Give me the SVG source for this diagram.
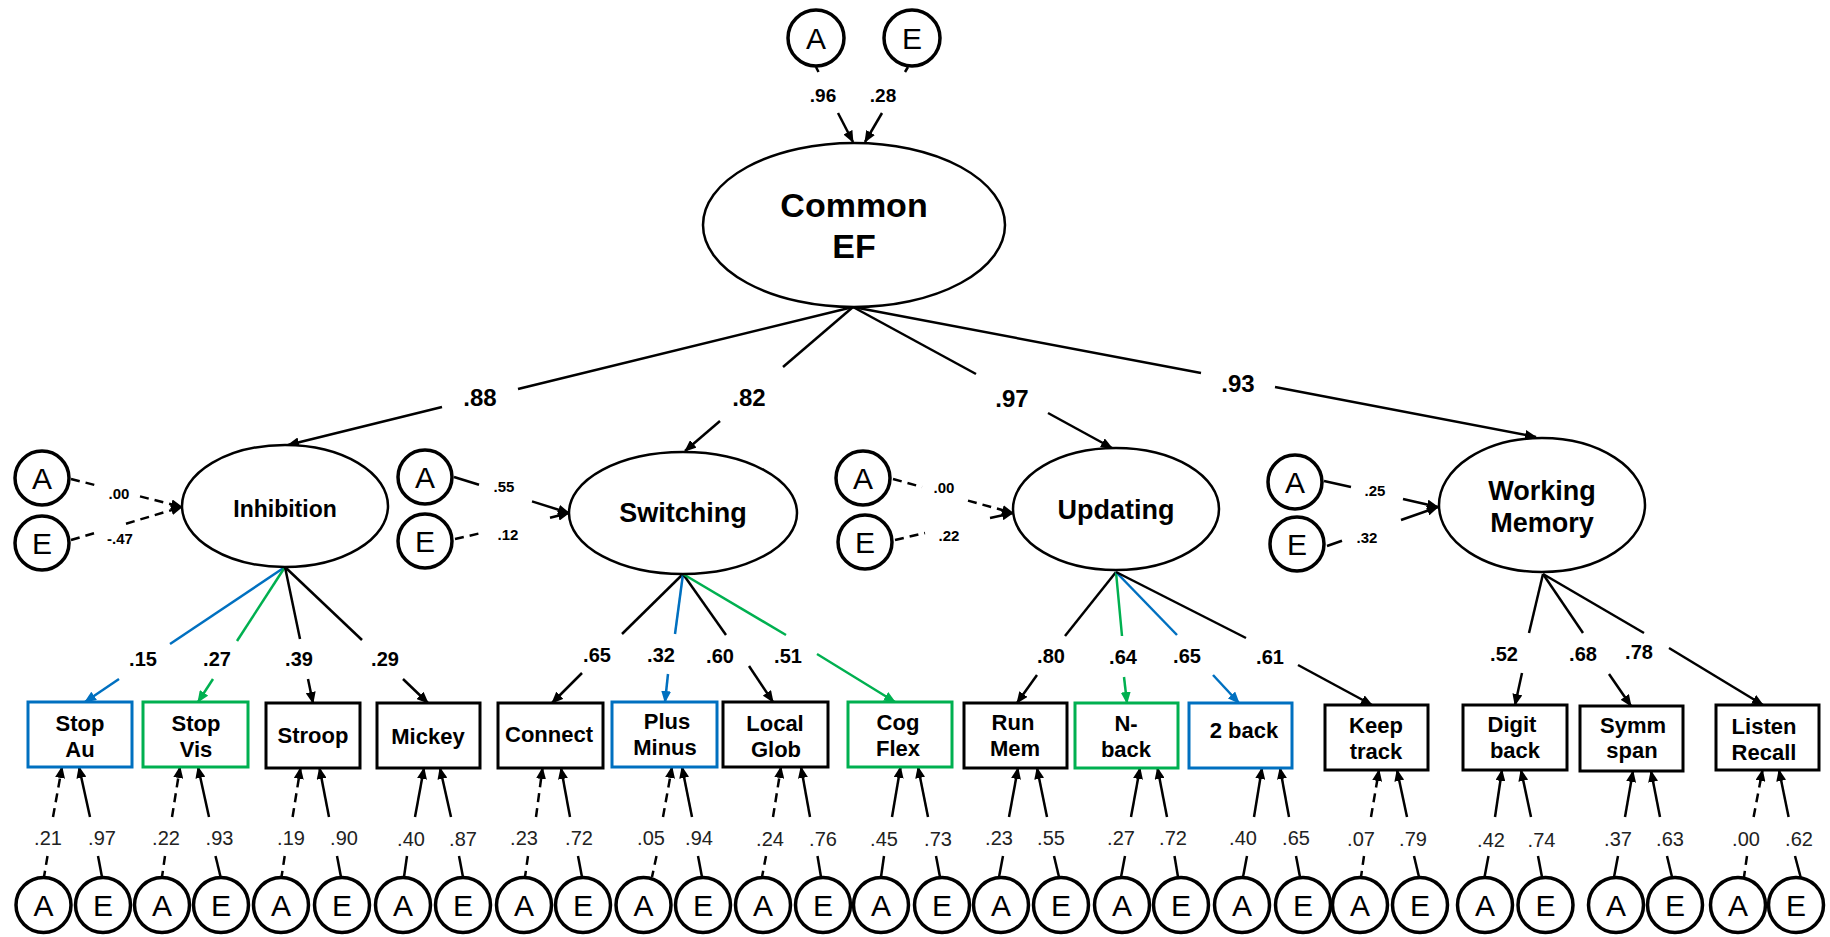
<svg xmlns="http://www.w3.org/2000/svg" width="1830" height="937" viewBox="0 0 1830 937">
<style>
.ln{stroke:#000;stroke-width:2.5;fill:none}
.bl{stroke:#0070C0}
.gr{stroke:#00B050}
.da{stroke-dasharray:9 6}
.ell{fill:#fff;stroke:#000;stroke-width:2.5}
.circ{fill:#fff;stroke:#000;stroke-width:3.5}
.box{fill:#fff;stroke:#000;stroke-width:3}
.boxb{fill:#fff;stroke:#0070C0;stroke-width:3}
.boxg{fill:#fff;stroke:#00B050;stroke-width:3}
text{font-family:"Liberation Sans",Arial,sans-serif;fill:#000;text-anchor:middle}
.ae{font-size:30px}
.bt{font-size:22px;font-weight:bold}
.fl{font-size:27px;font-weight:bold}
.big{font-size:34px;font-weight:bold}
.l1{font-size:24px;font-weight:bold}
.l2{font-size:20px;font-weight:bold}
.ls{font-size:15px;font-weight:bold}
.lt{font-size:19px;font-weight:bold}
.lb{font-size:20px;fill:#222}
</style>
<defs>
<marker id="ak" viewBox="0 0 12 10" refX="11" refY="5" markerWidth="12" markerHeight="10" markerUnits="userSpaceOnUse" orient="auto"><path d="M0,0 L12,5 L0,10 z" fill="#000"/></marker>
<marker id="ab" viewBox="0 0 12 10" refX="11" refY="5" markerWidth="12" markerHeight="10" markerUnits="userSpaceOnUse" orient="auto"><path d="M0,0 L12,5 L0,10 z" fill="#0070C0"/></marker>
<marker id="ag" viewBox="0 0 12 10" refX="11" refY="5" markerWidth="12" markerHeight="10" markerUnits="userSpaceOnUse" orient="auto"><path d="M0,0 L12,5 L0,10 z" fill="#00B050"/></marker>
</defs>

<g id="connectors">
<line class="ln" x1="816" y1="67" x2="818.5" y2="72"/>
<line class="ln" x1="838" y1="113" x2="853" y2="142" marker-end="url(#ak)"/>
<line class="ln" x1="908" y1="67" x2="905" y2="72"/>
<line class="ln" x1="882" y1="113" x2="865" y2="142" marker-end="url(#ak)"/>
<line class="ln" x1="853" y1="307" x2="518" y2="389"/>
<line class="ln" x1="442" y1="407" x2="288" y2="445" marker-end="url(#ak)"/>
<line class="ln" x1="853" y1="307" x2="783" y2="367"/>
<line class="ln" x1="720" y1="421" x2="685" y2="451" marker-end="url(#ak)"/>
<line class="ln" x1="853" y1="307" x2="976" y2="374"/>
<line class="ln" x1="1048" y1="413" x2="1112" y2="448" marker-end="url(#ak)"/>
<line class="ln" x1="853" y1="307" x2="1201" y2="373"/>
<line class="ln" x1="1275" y1="387" x2="1536" y2="437" marker-end="url(#ak)"/>
<line class="ln da" x1="71" y1="479" x2="100" y2="486.3"/>
<line class="ln da" x1="140" y1="496.4" x2="182" y2="507" marker-end="url(#ak)"/>
<line class="ln da" x1="71" y1="540" x2="95" y2="532.9"/>
<line class="ln da" x1="126" y1="523.7" x2="182" y2="507" marker-end="url(#ak)"/>
<line class="ln" x1="454" y1="477" x2="479" y2="484.8"/>
<line class="ln" x1="532" y1="501.4" x2="569" y2="513" marker-end="url(#ak)"/>
<line class="ln da" x1="455" y1="539" x2="483" y2="532.6"/>
<line class="ln" x1="550" y1="517.8" x2="569" y2="513" marker-end="url(#ak)"/>
<line class="ln da" x1="893" y1="479" x2="922" y2="487"/>
<line class="ln da" x1="968" y1="500.6" x2="1013" y2="513" marker-end="url(#ak)"/>
<line class="ln da" x1="895" y1="540" x2="925" y2="533"/>
<line class="ln" x1="990" y1="518" x2="1013" y2="513" marker-end="url(#ak)"/>
<line class="ln" x1="1324" y1="481" x2="1351" y2="487"/>
<line class="ln" x1="1403" y1="499" x2="1438" y2="507" marker-end="url(#ak)"/>
<line class="ln" x1="1327" y1="546" x2="1342" y2="540.7"/>
<line class="ln" x1="1401" y1="520" x2="1438" y2="507" marker-end="url(#ak)"/>
<line class="ln bl" x1="285" y1="567" x2="170" y2="644"/>
<line class="ln bl" x1="119" y1="679" x2="85" y2="702" marker-end="url(#ab)"/>
<line class="ln gr" x1="285" y1="567" x2="237" y2="641"/>
<line class="ln gr" x1="213" y1="679" x2="198" y2="702" marker-end="url(#ag)"/>
<line class="ln" x1="285" y1="567" x2="300" y2="639"/>
<line class="ln" x1="308" y1="679" x2="313" y2="703" marker-end="url(#ak)"/>
<line class="ln" x1="285" y1="567" x2="362" y2="640"/>
<line class="ln" x1="403" y1="679" x2="428" y2="703" marker-end="url(#ak)"/>
<line class="ln" x1="683" y1="574" x2="622" y2="634"/>
<line class="ln" x1="582" y1="673" x2="552" y2="703" marker-end="url(#ak)"/>
<line class="ln bl" x1="683" y1="574" x2="675" y2="634"/>
<line class="ln bl" x1="668" y1="674" x2="665" y2="702" marker-end="url(#ab)"/>
<line class="ln" x1="683" y1="574" x2="726" y2="635"/>
<line class="ln" x1="749" y1="666" x2="773" y2="702" marker-end="url(#ak)"/>
<line class="ln gr" x1="683" y1="574" x2="786" y2="635"/>
<line class="ln gr" x1="817" y1="654" x2="895" y2="702" marker-end="url(#ag)"/>
<line class="ln" x1="1116" y1="572" x2="1065" y2="636"/>
<line class="ln" x1="1037" y1="675" x2="1017" y2="703" marker-end="url(#ak)"/>
<line class="ln gr" x1="1116" y1="572" x2="1122" y2="636"/>
<line class="ln gr" x1="1124" y1="677" x2="1127" y2="703" marker-end="url(#ag)"/>
<line class="ln bl" x1="1116" y1="572" x2="1177" y2="635"/>
<line class="ln bl" x1="1213" y1="675" x2="1239" y2="703" marker-end="url(#ab)"/>
<line class="ln" x1="1116" y1="572" x2="1246" y2="638"/>
<line class="ln" x1="1298" y1="665" x2="1372" y2="705" marker-end="url(#ak)"/>
<line class="ln" x1="1543" y1="574" x2="1529" y2="633"/>
<line class="ln" x1="1522" y1="673" x2="1515" y2="705" marker-end="url(#ak)"/>
<line class="ln" x1="1543" y1="574" x2="1583" y2="633"/>
<line class="ln" x1="1609" y1="674" x2="1631" y2="706" marker-end="url(#ak)"/>
<line class="ln" x1="1543" y1="574" x2="1644" y2="633"/>
<line class="ln" x1="1669" y1="648" x2="1763" y2="705" marker-end="url(#ak)"/>
<line class="ln da" x1="47.5" y1="856" x2="44" y2="877"/><line class="ln da" x1="53" y1="817" x2="62" y2="767" marker-end="url(#ak)"/>
<line class="ln" x1="98" y1="856" x2="102" y2="877"/><line class="ln" x1="90" y1="817" x2="79" y2="767" marker-end="url(#ak)"/>
<line class="ln da" x1="165" y1="856" x2="162" y2="877"/><line class="ln da" x1="172" y1="817" x2="180" y2="767" marker-end="url(#ak)"/>
<line class="ln" x1="215.5" y1="856" x2="220.6" y2="877"/><line class="ln" x1="209" y1="817" x2="198" y2="767" marker-end="url(#ak)"/>
<line class="ln da" x1="284.7" y1="856" x2="281.5" y2="877"/><line class="ln da" x1="292.6" y1="817" x2="300.5" y2="768" marker-end="url(#ak)"/>
<line class="ln" x1="337" y1="856" x2="341" y2="877"/><line class="ln" x1="329" y1="817" x2="319.5" y2="768" marker-end="url(#ak)"/>
<line class="ln" x1="407" y1="856" x2="404" y2="877"/><line class="ln" x1="415" y1="817" x2="424" y2="768" marker-end="url(#ak)"/>
<line class="ln" x1="459" y1="856" x2="463" y2="877"/><line class="ln" x1="451" y1="817" x2="440" y2="768" marker-end="url(#ak)"/>
<line class="ln da" x1="528" y1="856" x2="525" y2="877"/><line class="ln da" x1="536" y1="817" x2="542.5" y2="768" marker-end="url(#ak)"/>
<line class="ln" x1="578" y1="856" x2="582" y2="877"/><line class="ln" x1="570" y1="817" x2="561" y2="768" marker-end="url(#ak)"/>
<line class="ln da" x1="656.5" y1="856" x2="652" y2="877"/><line class="ln da" x1="663" y1="817" x2="672" y2="767" marker-end="url(#ak)"/>
<line class="ln" x1="698" y1="856" x2="702" y2="877"/><line class="ln" x1="692" y1="817" x2="682" y2="767" marker-end="url(#ak)"/>
<line class="ln da" x1="766" y1="856" x2="762" y2="877"/><line class="ln da" x1="773" y1="817" x2="781" y2="767" marker-end="url(#ak)"/>
<line class="ln" x1="817.5" y1="856" x2="821" y2="877"/><line class="ln" x1="810" y1="817" x2="801" y2="767" marker-end="url(#ak)"/>
<line class="ln" x1="884" y1="856" x2="881" y2="877"/><line class="ln" x1="892" y1="817" x2="900.5" y2="767" marker-end="url(#ak)"/>
<line class="ln" x1="936" y1="856" x2="940" y2="877"/><line class="ln" x1="928" y1="817" x2="918" y2="767" marker-end="url(#ak)"/>
<line class="ln" x1="1003" y1="856" x2="999" y2="877"/><line class="ln" x1="1009" y1="817" x2="1018" y2="768" marker-end="url(#ak)"/>
<line class="ln" x1="1054" y1="856" x2="1059" y2="877"/><line class="ln" x1="1047" y1="817" x2="1037" y2="768" marker-end="url(#ak)"/>
<line class="ln" x1="1125" y1="856" x2="1121" y2="877"/><line class="ln" x1="1131" y1="817" x2="1140" y2="768" marker-end="url(#ak)"/>
<line class="ln" x1="1174.5" y1="856" x2="1178" y2="877"/><line class="ln" x1="1167" y1="817" x2="1157.5" y2="768" marker-end="url(#ak)"/>
<line class="ln" x1="1247" y1="856" x2="1243" y2="877"/><line class="ln" x1="1254" y1="817" x2="1262" y2="768" marker-end="url(#ak)"/>
<line class="ln" x1="1296" y1="856" x2="1300" y2="877"/><line class="ln" x1="1289" y1="817" x2="1280" y2="768" marker-end="url(#ak)"/>
<line class="ln da" x1="1364" y1="856" x2="1361" y2="877"/><line class="ln da" x1="1371" y1="817" x2="1379" y2="770" marker-end="url(#ak)"/>
<line class="ln" x1="1414" y1="856" x2="1419" y2="877"/><line class="ln" x1="1407" y1="817" x2="1397" y2="770" marker-end="url(#ak)"/>
<line class="ln" x1="1488.5" y1="856" x2="1484.5" y2="877"/><line class="ln" x1="1495" y1="817" x2="1502" y2="770" marker-end="url(#ak)"/>
<line class="ln" x1="1538" y1="856" x2="1542" y2="877"/><line class="ln" x1="1531" y1="817" x2="1521" y2="770" marker-end="url(#ak)"/>
<line class="ln" x1="1618" y1="856" x2="1614" y2="877"/><line class="ln" x1="1625" y1="817" x2="1633" y2="771" marker-end="url(#ak)"/>
<line class="ln" x1="1667" y1="856" x2="1672" y2="877"/><line class="ln" x1="1660" y1="817" x2="1651" y2="771" marker-end="url(#ak)"/>
<line class="ln da" x1="1747" y1="856" x2="1744" y2="877"/><line class="ln da" x1="1753.6" y1="817" x2="1762.5" y2="770" marker-end="url(#ak)"/>
<line class="ln" x1="1795" y1="856" x2="1800.6" y2="877"/><line class="ln" x1="1788.6" y1="817" x2="1779" y2="770" marker-end="url(#ak)"/>
</g>

<g id="edge-labels">
<text class="lt" x="823" y="102">.96</text>
<text class="lt" x="883" y="102">.28</text>
<text class="l1" x="480" y="406">.88</text>
<text class="l1" x="749" y="406">.82</text>
<text class="l1" x="1012" y="407">.97</text>
<text class="l1" x="1238" y="392">.93</text>
<text class="ls" x="119" y="499">.00</text>
<text class="ls" x="120" y="544">-.47</text>
<text class="ls" x="504" y="492">.55</text>
<text class="ls" x="508" y="540">.12</text>
<text class="ls" x="944" y="493">.00</text>
<text class="ls" x="949" y="541">.22</text>
<text class="ls" x="1375" y="496">.25</text>
<text class="ls" x="1367" y="543">.32</text>
<text class="l2" x="143" y="666">.15</text>
<text class="l2" x="217" y="666">.27</text>
<text class="l2" x="299" y="666">.39</text>
<text class="l2" x="385" y="666">.29</text>
<text class="l2" x="597" y="662">.65</text>
<text class="l2" x="661" y="662">.32</text>
<text class="l2" x="720" y="663">.60</text>
<text class="l2" x="788" y="663">.51</text>
<text class="l2" x="1051" y="663">.80</text>
<text class="l2" x="1123" y="664">.64</text>
<text class="l2" x="1187" y="663">.65</text>
<text class="l2" x="1270" y="664">.61</text>
<text class="l2" x="1504" y="661">.52</text>
<text class="l2" x="1583" y="661">.68</text>
<text class="l2" x="1639" y="659">.78</text>
<text class="lb" x="48" y="845">.21</text><text class="lb" x="102" y="845">.97</text>
<text class="lb" x="166" y="845">.22</text><text class="lb" x="219.5" y="845">.93</text>
<text class="lb" x="291" y="845">.19</text><text class="lb" x="344" y="845">.90</text>
<text class="lb" x="411" y="846">.40</text><text class="lb" x="463" y="846">.87</text>
<text class="lb" x="524" y="845">.23</text><text class="lb" x="579" y="845">.72</text>
<text class="lb" x="651" y="845">.05</text><text class="lb" x="699" y="845">.94</text>
<text class="lb" x="770" y="846">.24</text><text class="lb" x="823" y="846">.76</text>
<text class="lb" x="884" y="846">.45</text><text class="lb" x="938" y="846">.73</text>
<text class="lb" x="999" y="845">.23</text><text class="lb" x="1051" y="845">.55</text>
<text class="lb" x="1121" y="845">.27</text><text class="lb" x="1173" y="845">.72</text>
<text class="lb" x="1243" y="845">.40</text><text class="lb" x="1296" y="845">.65</text>
<text class="lb" x="1361" y="846">.07</text><text class="lb" x="1413" y="846">.79</text>
<text class="lb" x="1491" y="847">.42</text><text class="lb" x="1541.5" y="847">.74</text>
<text class="lb" x="1618" y="846">.37</text><text class="lb" x="1670" y="846">.63</text>
<text class="lb" x="1746" y="846">.00</text><text class="lb" x="1799" y="846">.62</text>
</g>

<g id="common-ef"><ellipse class="ell" cx="854" cy="225" rx="151" ry="82"/><text class="big" x="854" y="217">Common</text><text class="big" x="854" y="258">EF</text></g>
<g id="top-A"><circle class="circ" cx="816" cy="38" r="28"/><text class="ae" x="816" y="49">A</text></g>
<g id="top-E"><circle class="circ" cx="912" cy="38" r="28"/><text class="ae" x="912" y="49">E</text></g>

<g id="inhibition"><ellipse class="ell" cx="285" cy="506" rx="103" ry="61"/><text class="fl" x="285" y="517" style="font-size:23px">Inhibition</text></g>
<g id="inh-A"><circle class="circ" cx="42" cy="478" r="27"/><text class="ae" x="42" y="489">A</text></g>
<g id="inh-E"><circle class="circ" cx="42" cy="543" r="27"/><text class="ae" x="42" y="554">E</text></g>

<g id="switching"><ellipse class="ell" cx="683" cy="513" rx="114" ry="61"/><text class="fl" x="683" y="522">Switching</text></g>
<g id="sw-A"><circle class="circ" cx="425" cy="477" r="27"/><text class="ae" x="425" y="488">A</text></g>
<g id="sw-E"><circle class="circ" cx="425" cy="541" r="27"/><text class="ae" x="425" y="552">E</text></g>

<g id="updating"><ellipse class="ell" cx="1116" cy="509" rx="103" ry="61"/><text class="fl" x="1116" y="519">Updating</text></g>
<g id="up-A"><circle class="circ" cx="863" cy="478" r="27"/><text class="ae" x="863" y="489">A</text></g>
<g id="up-E"><circle class="circ" cx="865" cy="542" r="27"/><text class="ae" x="865" y="553">E</text></g>

<g id="working-memory"><ellipse class="ell" cx="1542" cy="505" rx="103" ry="67"/><text class="fl" x="1542" y="500">Working</text><text class="fl" x="1542" y="532">Memory</text></g>
<g id="wm-A"><circle class="circ" cx="1295" cy="482" r="27"/><text class="ae" x="1295" y="493">A</text></g>
<g id="wm-E"><circle class="circ" cx="1297" cy="544" r="27"/><text class="ae" x="1297" y="555">E</text></g>

<g id="box-stopau"><rect class="boxb" x="28" y="702" width="104" height="65"/><text class="bt" x="80" y="731">Stop</text><text class="bt" x="80" y="757">Au</text></g>
<g id="box-stopvis"><rect class="boxg" x="143" y="702" width="105" height="65"/><text class="bt" x="196" y="731">Stop</text><text class="bt" x="196" y="757">Vis</text></g>
<g id="box-stroop"><rect class="box" x="266" y="703" width="94" height="65"/><text class="bt" x="313" y="743">Stroop</text></g>
<g id="box-mickey"><rect class="box" x="377" y="703" width="103" height="65"/><text class="bt" x="428" y="744">Mickey</text></g>
<g id="box-connect"><rect class="box" x="498" y="703" width="105" height="65"/><text class="bt" x="549" y="742">Connect</text></g>
<g id="box-plusminus"><rect class="boxb" x="612" y="702" width="105" height="65"/><text class="bt" x="667" y="729">Plus</text><text class="bt" x="665" y="755">Minus</text></g>
<g id="box-localglob"><rect class="box" x="723" y="702" width="105" height="65"/><text class="bt" x="775" y="731">Local</text><text class="bt" x="776" y="757">Glob</text></g>
<g id="box-cogflex"><rect class="boxg" x="848" y="702" width="104" height="65"/><text class="bt" x="898" y="730">Cog</text><text class="bt" x="898" y="756">Flex</text></g>
<g id="box-runmem"><rect class="box" x="964" y="703" width="103" height="65"/><text class="bt" x="1013" y="730">Run</text><text class="bt" x="1015" y="756">Mem</text></g>
<g id="box-nback"><rect class="boxg" x="1075" y="703" width="103" height="65"/><text class="bt" x="1126" y="731">N-</text><text class="bt" x="1126" y="757">back</text></g>
<g id="box-2back"><rect class="boxb" x="1189" y="703" width="103" height="65"/><text class="bt" x="1244" y="738">2 back</text></g>
<g id="box-keeptrack"><rect class="box" x="1325" y="705" width="103" height="65"/><text class="bt" x="1376" y="733">Keep</text><text class="bt" x="1376" y="759">track</text></g>
<g id="box-digitback"><rect class="box" x="1463" y="705" width="104" height="65"/><text class="bt" x="1512" y="732">Digit</text><text class="bt" x="1515" y="758">back</text></g>
<g id="box-symmspan"><rect class="box" x="1580" y="706" width="103" height="65"/><text class="bt" x="1633" y="733">Symm</text><text class="bt" x="1632" y="758">span</text></g>
<g id="box-listenrecall"><rect class="box" x="1716" y="705" width="103" height="65"/><text class="bt" x="1764" y="734">Listen</text><text class="bt" x="1764" y="760">Recall</text></g>

<g id="bottom-latents">
<circle class="circ" cx="43.5" cy="905" r="27.5"/><text class="ae" x="43.5" y="916">A</text>
<circle class="circ" cx="103" cy="905" r="27.5"/><text class="ae" x="103" y="916">E</text>
<circle class="circ" cx="162" cy="905" r="27.5"/><text class="ae" x="162" y="916">A</text>
<circle class="circ" cx="221" cy="905" r="27.5"/><text class="ae" x="221" y="916">E</text>
<circle class="circ" cx="281" cy="905" r="27.5"/><text class="ae" x="281" y="916">A</text>
<circle class="circ" cx="342" cy="905" r="27.5"/><text class="ae" x="342" y="916">E</text>
<circle class="circ" cx="403" cy="905" r="27.5"/><text class="ae" x="403" y="916">A</text>
<circle class="circ" cx="463" cy="905" r="27.5"/><text class="ae" x="463" y="916">E</text>
<circle class="circ" cx="524" cy="905" r="27.5"/><text class="ae" x="524" y="916">A</text>
<circle class="circ" cx="583" cy="905" r="27.5"/><text class="ae" x="583" y="916">E</text>
<circle class="circ" cx="643.5" cy="905" r="27.5"/><text class="ae" x="643.5" y="916">A</text>
<circle class="circ" cx="703" cy="905" r="27.5"/><text class="ae" x="703" y="916">E</text>
<circle class="circ" cx="763" cy="905" r="27.5"/><text class="ae" x="763" y="916">A</text>
<circle class="circ" cx="823" cy="905" r="27.5"/><text class="ae" x="823" y="916">E</text>
<circle class="circ" cx="881" cy="905" r="27.5"/><text class="ae" x="881" y="916">A</text>
<circle class="circ" cx="942" cy="905" r="27.5"/><text class="ae" x="942" y="916">E</text>
<circle class="circ" cx="1001" cy="905" r="27.5"/><text class="ae" x="1001" y="916">A</text>
<circle class="circ" cx="1061" cy="905" r="27.5"/><text class="ae" x="1061" y="916">E</text>
<circle class="circ" cx="1122" cy="905" r="27.5"/><text class="ae" x="1122" y="916">A</text>
<circle class="circ" cx="1181" cy="905" r="27.5"/><text class="ae" x="1181" y="916">E</text>
<circle class="circ" cx="1242" cy="905" r="27.5"/><text class="ae" x="1242" y="916">A</text>
<circle class="circ" cx="1303" cy="905" r="27.5"/><text class="ae" x="1303" y="916">E</text>
<circle class="circ" cx="1360" cy="905" r="27.5"/><text class="ae" x="1360" y="916">A</text>
<circle class="circ" cx="1420" cy="905" r="27.5"/><text class="ae" x="1420" y="916">E</text>
<circle class="circ" cx="1485" cy="905" r="27.5"/><text class="ae" x="1485" y="916">A</text>
<circle class="circ" cx="1545.5" cy="905" r="27.5"/><text class="ae" x="1545.5" y="916">E</text>
<circle class="circ" cx="1616" cy="905" r="27.5"/><text class="ae" x="1616" y="916">A</text>
<circle class="circ" cx="1675" cy="905" r="27.5"/><text class="ae" x="1675" y="916">E</text>
<circle class="circ" cx="1738" cy="905" r="27.5"/><text class="ae" x="1738" y="916">A</text>
<circle class="circ" cx="1796" cy="905" r="27.5"/><text class="ae" x="1796" y="916">E</text>
</g>
</svg>
